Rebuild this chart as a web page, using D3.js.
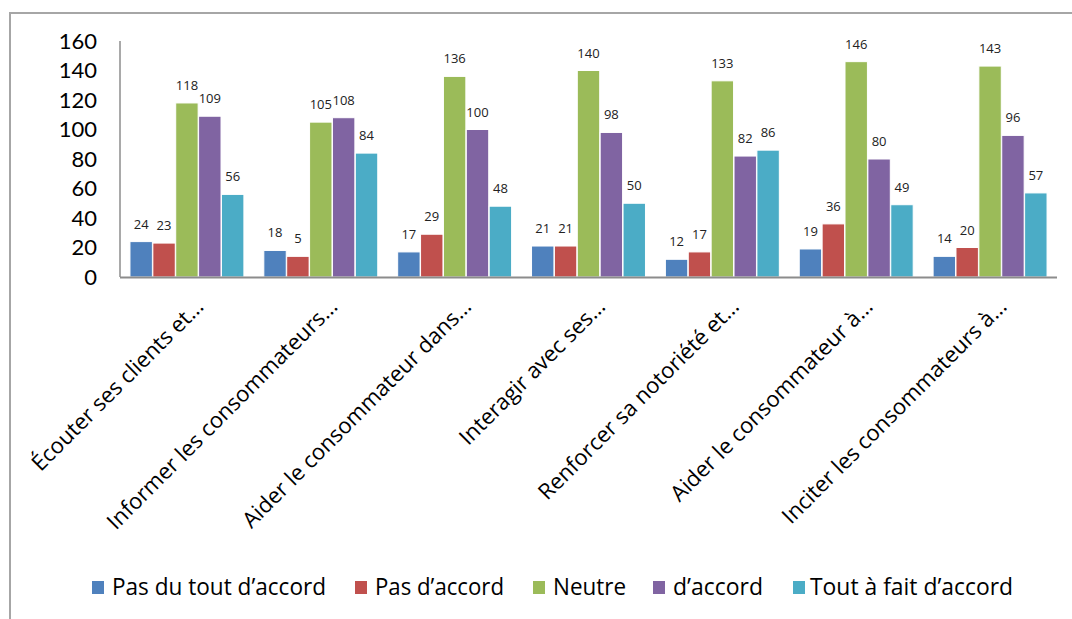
<!DOCTYPE html>
<html><head><meta charset="utf-8">
<script src="https://cdn.jsdelivr.net/npm/d3@7"></script>
<style>body{margin:0;background:#fff;font-family:"Open Sans",sans-serif;}</style>
</head><body>
<svg id="c" width="1072" height="619"></svg>
<script>
const categories = ["Écouter ses clients et…","Informer les consommateurs…","Aider le consommateur dans…","Interagir avec ses…","Renforcer sa notoriété et…","Aider le consommateur à…","Inciter les consommateurs à…"];
const seriesNames = ["Pas du tout d’accord","Pas d’accord","Neutre","d’accord","Tout à fait d’accord"];
const colors = ["#4F81BD","#C0504D","#9BBB59","#8064A2","#4BACC6"];
const pasDuTout = [24,18,17,21,12,19,14];
const pasDaccord = [23,14,29,21,17,36,20];
const pasDaccordLabels = ["23","5","29","21","17","36","20"];
const neutre = [118,105,136,140,133,146,143];
const daccord = [109,108,100,98,82,80,96];
const toutAFait = [56,84,48,50,86,49,57];
const yTicks = [0,20,40,60,80,100,120,140,160];

const series = [pasDuTout,pasDaccord,neutre,daccord,toutAFait];
const labels = [pasDuTout.map(String),pasDaccordLabels,neutre.map(String),daccord.map(String),toutAFait.map(String)];

const svg = d3.select("#c");
svg.append("path").attr("d","M10,619 V13 H1072").attr("fill","none").attr("stroke","#a6a6a6").attr("stroke-width",2);

const x0 = d3.scaleBand().domain(categories).range([120,1057]).paddingInner(0.142).paddingOuter(0.071);
const x1 = d3.scaleBand().domain(d3.range(5)).range([0,x0.bandwidth()]).padding(0.02);
const y = d3.scaleLinear().domain([0,160]).range([277,41]);

svg.append("line").attr("x1",120).attr("x2",120).attr("y1",41).attr("y2",277).attr("stroke","#8c8c8c").attr("stroke-width",1.5);
svg.append("g").selectAll("text").data(yTicks).join("text")
  .attr("x",97).attr("y",d=>y(d)).attr("dy","0.35em").attr("text-anchor","end")
  .attr("font-family","Lato").attr("font-size",22).attr("fill","#000").text(d=>d);

const g = svg.append("g");
categories.forEach((c,ci)=>{
  series.forEach((s,si)=>{
    const bx = x0(c)+x1(si), bw = x1.bandwidth();
    g.append("rect").attr("x",bx).attr("y",y(s[ci])).attr("width",bw).attr("height",y(0)-y(s[ci]))
      .attr("fill",colors[si]).attr("stroke","#fff").attr("stroke-width",1);
    g.append("text").attr("x",bx+bw/2).attr("y",y(s[ci])-13).attr("text-anchor","middle")
      .attr("font-size",13).attr("fill","#222").text(labels[si][ci]);
  });
});

svg.append("line").attr("x1",120).attr("x2",1057).attr("y1",277.5).attr("y2",277.5).attr("stroke","#8c8c8c").attr("stroke-width",2);

svg.append("g").selectAll("text").data(categories).join("text")
  .attr("transform",d=>`translate(${x0(d)+x0.bandwidth()/2+18},308) rotate(-45)`)
  .attr("text-anchor","end").attr("font-size",22).attr("fill","#000").text(d=>d);

const legSq = [92,355,533,653,793];
const legTx = [112,375,553,673,810];
const legW = [214,129,73,90,203];
const lg = svg.append("g");
seriesNames.forEach((n,i)=>{
  lg.append("rect").attr("x",legSq[i]).attr("y",581).attr("width",12).attr("height",13).attr("fill",colors[i]);
  lg.append("text").attr("x",legTx[i]).attr("y",595).attr("font-size",23)
    .attr("textLength",legW[i]).attr("lengthAdjust","spacingAndGlyphs").attr("fill","#000").text(n);
});
</script>
</body></html>
